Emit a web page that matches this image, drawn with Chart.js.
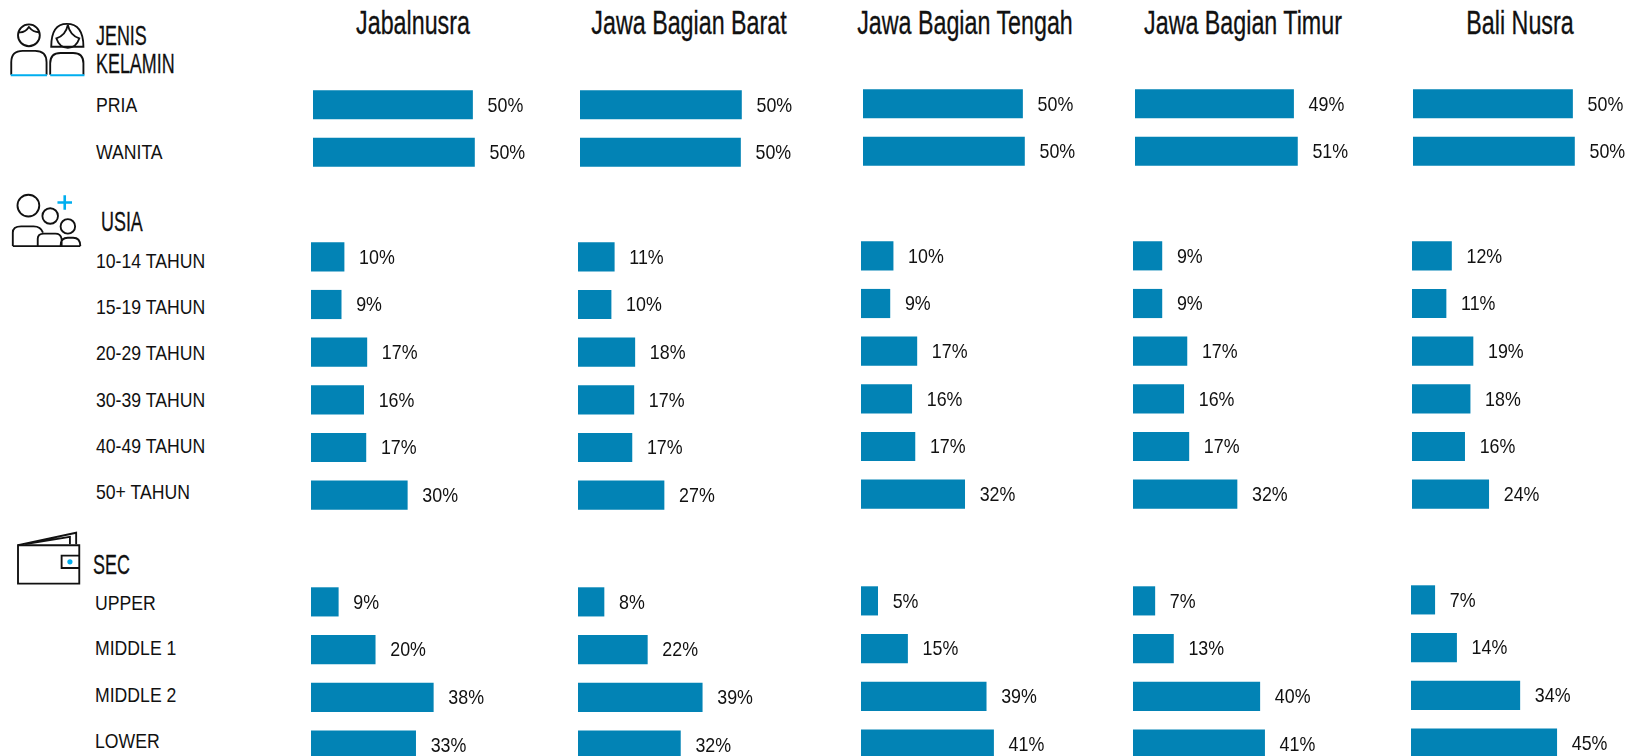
<!DOCTYPE html>
<html>
<head>
<meta charset="utf-8">
<script src="https://cdn.jsdelivr.net/npm/chart.js@4"></script>
<style>
html, body { margin: 0; padding: 0; background: #fff; overflow: hidden; width: 1629px; height: 756px; }
.t { position: absolute; white-space: nowrap; color: #111; font-family: "Liberation Sans", sans-serif; transform-origin: left center; }
.row { font-size: 21px; transform: translateY(-50%) scaleX(0.84); }
.sec { font-size: 28px; transform: translateY(-50%) scaleX(0.64); -webkit-text-stroke: 0.3px #111; }
.title { font-size: 33px; transform-origin: center center; transform: translate(-50%, -50%) scaleX(0.705); -webkit-text-stroke: 0.3px #111; }
canvas { position: absolute; }
svg { position: absolute; left: 0; top: 0; }
</style>
</head>
<body>
<svg width="1629" height="756" viewBox="0 0 1568 728" fill="none" stroke="#111" stroke-width="1.8">
  <!-- jenis kelamin -->
  <circle cx="27.5" cy="34" r="10.5"/>
  <path d="M17.5 31 q6 1 10 -5 q4 5 10 5"/>
  <path d="M10.5 72 V60 q0 -11 11 -11 h12 q11 0 11 11 V72"/>
  <path d="M49 45 q0 -22 15 -22 q16 0 16 22 Z"/>
  <path d="M65 24 q-2 10 -11 13 q3 9 11 9 q8 0 11 -9 q-9 -3 -11 -13"/>
  <path d="M48 72 V61 q0 -10 10 -10 h12 q10 0 10 10 V72"/>
  <path d="M10 72.5 H45 M48 72.5 H81" stroke="#00aeef" stroke-width="2"/>
  <!-- usia -->
  <circle cx="27" cy="198" r="10.5"/>
  <circle cx="48" cy="208" r="7.5"/>
  <circle cx="65" cy="218" r="7"/>
  <path d="M12 237 V224 q0 -6 8 -6 h12 q7 0 9 6 M36 237 V230 q0 -5 6 -5 h11 q5 0 6 5 V237 M58 237 q0 -8 7 -8 h5 q7 0 7 8 M12 237 H77"/>
  <path d="M55 195 H69 M62 188 V202" stroke="#00aeef" stroke-width="2.5"/>
  <!-- sec -->
  <path d="M17 525 L73 513 V524 M24 524 L67 517 V524"/>
  <path d="M17 525 H76 V562 H17 Z"/>
  <path d="M76 535 H59 V547 H76" />
  <circle cx="67" cy="541" r="2.5" fill="#00aeef" stroke="none"/>
</svg>
<script>
var regions = ['Jabalnusra', 'Jawa Bagian Barat', 'Jawa Bagian Tengah', 'Jawa Bagian Timur', 'Bali Nusra'];
var genderRows = ['PRIA', 'WANITA'];
var ageRows = ['10-14 TAHUN', '15-19 TAHUN', '20-29 TAHUN', '30-39 TAHUN', '40-49 TAHUN', '50+ TAHUN'];
var secRows = ['UPPER', 'MIDDLE 1', 'MIDDLE 2', 'LOWER'];

// one line per region
var genderValues = [
  [49.7, 50.3],
  [50.3, 50.0],
  [49.7, 50.3],
  [49.4, 50.6],
  [49.7, 50.3],
];
var ageValues = [
  [10.3, 9.4, 17.4, 16.4, 17.1, 30.0],
  [11.3, 10.3, 17.7, 17.4, 16.8, 26.8],
  [10.0, 9.0, 17.4, 15.8, 16.8, 32.3],
  [9.0, 9.0, 16.8, 15.8, 17.4, 32.4],
  [12.3, 10.6, 19.0, 18.1, 16.4, 23.9],
];
var secValues = [
  [8.5, 20.0, 38.1, 32.6],
  [8.1, 21.6, 38.7, 31.9],
  [5.2, 14.5, 39.0, 41.3],
  [6.8, 12.6, 39.5, 41.0],
  [7.4, 14.2, 33.9, 45.4],
];

var titleX = [413, 689, 965, 1243, 1520];
var genderX = [313, 580, 863, 1135, 1413];
var ageX = [311, 578, 861, 1133, 1412];
var secX = [311, 578, 861, 1133, 1411];
var genderY = [105, 105, 103.5, 103.5, 103.5];
var ageY = [257, 257, 255.5, 255.5, 255.5];
var secY = [602, 602, 600.5, 600.5, 600];

var PITCH = 47.7;
var PX_PER_PCT = 3.21;
var CANVAS_W = 225;

var valueLabels = {
  id: 'valueLabels',
  afterDatasetsDraw: function (chart) {
    var ctx = chart.ctx;
    var values = chart.data.datasets[0].data;
    ctx.font = '21px "Liberation Sans", sans-serif';
    ctx.fillStyle = '#111';
    ctx.textBaseline = 'middle';
    chart.getDatasetMeta(0).data.forEach(function (bar, i) {
      ctx.save();
      ctx.translate(bar.x + 15, bar.y + 1);
      ctx.scale(0.85, 1);
      ctx.fillText(Math.round(values[i]) + '%', 0, 0);
      ctx.restore();
    });
  },
};

function addChart(left, firstY, rows, values) {
  var canvas = document.createElement('canvas');
  var h = Math.round(rows.length * PITCH);
  canvas.style.left = left + 'px';
  canvas.style.top = Math.round(firstY - PITCH / 2) + 'px';
  canvas.style.width = CANVAS_W + 'px';
  canvas.style.height = h + 'px';
  canvas.width = CANVAS_W;
  canvas.height = h;
  document.body.appendChild(canvas);
  new Chart(canvas, {
    type: 'bar',
    data: {
      labels: rows,
      datasets: [
        {
          data: values,
          backgroundColor: '#0283b5',
          barThickness: 28.5,
        },
      ],
    },
    options: {
      indexAxis: 'y',
      responsive: false,
      animation: false,
      plugins: {
        legend: { display: false },
        tooltip: { enabled: false },
      },
      scales: {
        x: { display: false, min: 0, max: CANVAS_W / PX_PER_PCT },
        y: { display: false },
      },
    },
    plugins: [valueLabels],
  });
}

function addText(cls, text, x, y) {
  var el = document.createElement('div');
  el.className = 't ' + cls;
  el.textContent = text;
  el.style.left = x + 'px';
  el.style.top = y + 'px';
  document.body.appendChild(el);
}

regions.forEach(function (name, i) {
  addText('title', name, titleX[i], 23);
  addChart(genderX[i], genderY[i], genderRows, genderValues[i]);
  addChart(ageX[i], ageY[i], ageRows, ageValues[i]);
  addChart(secX[i], secY[i], secRows, secValues[i]);
});

addText('sec', 'JENIS', 96, 36);
addText('sec', 'KELAMIN', 96, 64);
addText('sec', 'USIA', 101, 222);
addText('sec', 'SEC', 93, 565);

var genderLabelY = [105, 152];
genderRows.forEach(function (r, i) { addText('row', r, 96, genderLabelY[i]); });
var ageLabelY = [261, 307, 353, 400, 446, 492];
ageRows.forEach(function (r, i) { addText('row', r, 95.5, ageLabelY[i]); });
var secLabelY = [603, 648, 695, 741];
secRows.forEach(function (r, i) { addText('row', r, 94.5, secLabelY[i]); });
</script>
</body>
</html>
